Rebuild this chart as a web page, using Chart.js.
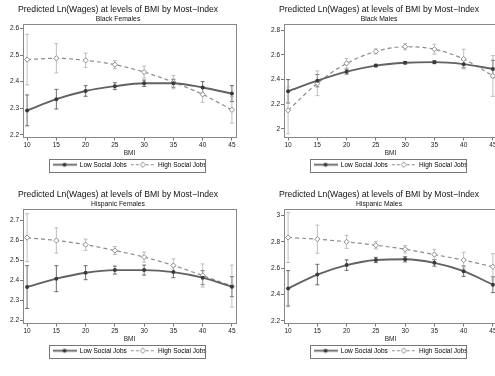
<!DOCTYPE html>
<html>
<head>
<meta charset="UTF-8">
<script src="https://cdn.jsdelivr.net/npm/chart.js"></script>
<style>
  body { margin: 0; background: #fff; }
  #wrap { position: relative; width: 495px; height: 376px; overflow: hidden; background: #fff; }
  canvas { position: absolute; }
</style>
</head>
<body>
<div id="wrap">
  <canvas id="c1" width="248" height="188" style="left:0px;top:0px"></canvas>
  <canvas id="c2" width="248" height="188" style="left:261px;top:0px"></canvas>
  <canvas id="c3" width="248" height="191" style="left:0px;top:185px"></canvas>
  <canvas id="c4" width="248" height="191" style="left:261px;top:185px"></canvas>
</div>
<script>
// BMI levels on the x axis
const bmi = [10, 15, 20, 25, 30, 35, 40, 45];

// Black Females
const bfLow = [2.292, 2.334, 2.365, 2.383, 2.394, 2.394, 2.378, 2.355];
const bfLowCi = [0.058, 0.037, 0.02, 0.013, 0.012, 0.015, 0.022, 0.03];
const bfHigh = [2.483, 2.488, 2.480, 2.464, 2.436, 2.398, 2.352, 2.294];
const bfHighCi = [0.095, 0.055, 0.027, 0.015, 0.022, 0.025, 0.03, 0.05];
const bfTicks = [2.2, 2.3, 2.4, 2.5, 2.6];

// Black Males
const bmLow = [2.304, 2.390, 2.463, 2.512, 2.535, 2.540, 2.524, 2.485];
const bmLowCi = [0.095, 0.05, 0.02, 0.01, 0.01, 0.012, 0.03, 0.07];
const bmHigh = [2.150, 2.369, 2.530, 2.627, 2.665, 2.645, 2.565, 2.428];
const bmHighCi = [0.19, 0.1, 0.04, 0.02, 0.025, 0.04, 0.08, 0.165];
const bmTicks = [2, 2.2, 2.4, 2.6, 2.8];

// Hispanic Females
const hfLow = [2.365, 2.407, 2.437, 2.450, 2.450, 2.440, 2.412, 2.367];
const hfLowCi = [0.107, 0.065, 0.035, 0.02, 0.025, 0.028, 0.035, 0.05];
const hfHigh = [2.612, 2.598, 2.577, 2.548, 2.515, 2.473, 2.423, 2.370];
const hfHighCi = [0.12, 0.063, 0.028, 0.02, 0.025, 0.033, 0.058, 0.105];
const hfTicks = [2.2, 2.3, 2.4, 2.5, 2.6, 2.7];

// Hispanic Males
const hmLow = [2.446, 2.551, 2.623, 2.662, 2.667, 2.640, 2.577, 2.474];
const hmLowCi = [0.135, 0.078, 0.04, 0.02, 0.02, 0.025, 0.04, 0.06];
const hmHigh = [2.833, 2.820, 2.800, 2.774, 2.744, 2.703, 2.661, 2.610];
const hmHighCi = [0.19, 0.107, 0.05, 0.028, 0.028, 0.04, 0.06, 0.1];
const hmTicks = [2.2, 2.4, 2.6, 2.8, 3];

const xTicks = [10, 15, 20, 25, 30, 35, 40, 45];

const FONT = 'Liberation Sans, Arial, sans-serif';
const lowColor = '#626262';
const lowMark = '#3a3a3a';
const lowCiColor = '#4a4a4a';
const highColor = '#8c8c8c';
const highCiColor = '#b0b0b0';

// small legend icons: line with marker
function legendIcon(color, markColor, dashed, hollow) {
    const c = document.createElement('canvas');
    c.width = 24; c.height = 7;
    const g = c.getContext('2d');
    g.strokeStyle = color;
    g.lineWidth = dashed ? 1.2 : 1.8;
    if (dashed) g.setLineDash([3, 2]);
    g.beginPath(); g.moveTo(0, 3.5); g.lineTo(24, 3.5); g.stroke();
    g.setLineDash([]);
    if (hollow) {
        g.fillStyle = '#fff';
        g.beginPath();
        g.moveTo(12, 0.8); g.lineTo(14.7, 3.5); g.lineTo(12, 6.2); g.lineTo(9.3, 3.5); g.closePath();
        g.fill();
        g.lineWidth = 1;
        g.strokeStyle = markColor;
        g.stroke();
    } else {
        g.fillStyle = markColor;
        g.beginPath(); g.arc(12, 3.5, 2, 0, Math.PI * 2); g.fill();
    }
    return c;
}
const lowIcon = legendIcon(lowColor, lowMark, false, false);
const highIcon = legendIcon(highColor, highColor, true, true);

// draws rcap confidence intervals and the frame around the plot region
const ciPlugin = {
    id: 'ciPlugin',
    beforeDatasetsDraw(chart) {
        const ctx = chart.ctx;
        const xs = chart.scales.x, ys = chart.scales.y;
        chart.data.datasets.forEach(ds => {
            ctx.save();
            ctx.strokeStyle = ds.ciColor;
            ctx.lineWidth = 0.8;
            ds.data.forEach((p, i) => {
                const px = xs.getPixelForValue(p.x);
                const y1 = ys.getPixelForValue(p.y - ds.ci[i]);
                const y2 = ys.getPixelForValue(p.y + ds.ci[i]);
                ctx.beginPath();
                ctx.moveTo(px, y1); ctx.lineTo(px, y2);
                ctx.moveTo(px - 2, y1); ctx.lineTo(px + 2, y1);
                ctx.moveTo(px - 2, y2); ctx.lineTo(px + 2, y2);
                ctx.stroke();
            });
            ctx.restore();
        });
    },
    afterDraw(chart) {
        const ctx = chart.ctx;
        const a = chart.chartArea;
        ctx.save();
        ctx.strokeStyle = '#888';
        ctx.lineWidth = 1;
        ctx.strokeRect(Math.round(a.left) + 0.5, Math.round(a.top) + 0.5,
            Math.round(a.right - a.left), Math.round(a.bottom - a.top));
        // legend box
        const boxes = chart.legend.legendHitBoxes;
        if (boxes && boxes.length) {
            const l = boxes[0].left - 4;
            const r = boxes[boxes.length - 1].left + boxes[boxes.length - 1].width - 2;
            const t = boxes[0].top - 3;
            const b = boxes[0].top + boxes[0].height + 3;
            ctx.strokeStyle = '#777';
            ctx.strokeRect(Math.round(l) + 0.5, Math.round(t) + 0.5, Math.round(r - l), Math.round(b - t));
        }
        ctx.restore();
    }
};

function makePanel(id, subtitle, low, lowCi, high, highCi, yTicks, ymin, ymax, pad) {
    const toPts = arr => arr.map((v, i) => ({ x: bmi[i], y: v }));
    new Chart(document.getElementById(id), {
        type: 'line',
        data: {
            datasets: [{
                label: 'Low Social Jobs',
                data: toPts(low),
                ci: lowCi,
                ciColor: lowCiColor,
                borderColor: lowColor,
                borderWidth: 1.9,
                pointStyle: 'circle',
                pointRadius: 2,
                pointBackgroundColor: lowMark,
                pointBorderColor: lowMark,
                pointBorderWidth: 0,
                cubicInterpolationMode: 'monotone',
                tension: 0.4
            }, {
                label: 'High Social Jobs',
                data: toPts(high),
                ci: highCi,
                ciColor: highCiColor,
                borderColor: highColor,
                borderWidth: 1.2,
                borderDash: [4, 3],
                pointStyle: 'rectRot',
                pointRadius: 2.6,
                pointBackgroundColor: '#fff',
                pointBorderColor: highColor,
                pointBorderWidth: 1,
                cubicInterpolationMode: 'monotone',
                tension: 0.4
            }]
        },
        options: {
            responsive: false,
            animation: false,
            layout: { padding: { left: 0, right: pad.right, top: pad.top, bottom: pad.bottom } },
            scales: {
                x: {
                    type: 'linear',
                    min: 9.3,
                    max: 45.7,
                    afterBuildTicks: s => { s.ticks = xTicks.map(v => ({ value: v })); },
                    afterFit: s => { s.height = pad.xh; },
                    grid: { drawOnChartArea: false, drawTicks: true, tickLength: 3, color: '#777' },
                    border: { display: false },
                    ticks: { font: { family: FONT, size: 6.5 }, color: '#222', padding: 1, maxRotation: 0 },
                    title: { display: true, text: 'BMI', font: { family: FONT, size: 6.5 }, color: '#222', padding: { top: 0, bottom: 0 } }
                },
                y: {
                    min: ymin,
                    max: ymax,
                    afterBuildTicks: s => { s.ticks = yTicks.map(v => ({ value: v })); },
                    afterFit: s => { s.width = pad.yw; },
                    grid: { drawOnChartArea: false, drawTicks: true, tickLength: 3, color: '#777' },
                    border: { display: false },
                    ticks: { font: { family: FONT, size: 6.5 }, color: '#222', padding: 1,
                        callback: v => String(v) }
                }
            },
            plugins: {
                title: {
                    display: true,
                    text: 'Predicted Ln(Wages) at levels of BMI by Most\u2212Index',
                    font: { family: FONT, size: 8.6, weight: 'normal' },
                    color: '#111',
                    padding: { top: 0, bottom: 1 }
                },
                subtitle: {
                    display: true,
                    text: subtitle,
                    font: { family: FONT, size: 6.8 },
                    color: '#111',
                    padding: { top: 0, bottom: pad.sub }
                },
                legend: {
                    position: 'bottom',
                    fullSize: false,
                    labels: {
                        font: { family: FONT, size: 6.5 },
                        color: '#222',
                        usePointStyle: true,
                        pointStyleWidth: 24,
                        padding: 4,
                        generateLabels: () => [
                            { text: 'Low Social Jobs', pointStyle: lowIcon, datasetIndex: 0, lineWidth: 0, fillStyle: 'transparent', strokeStyle: 'transparent' },
                            { text: 'High Social Jobs', pointStyle: highIcon, datasetIndex: 1, lineWidth: 0, fillStyle: 'transparent', strokeStyle: 'transparent' }
                        ]
                    }
                },
                tooltip: { enabled: false }
            }
        },
        plugins: [ciPlugin]
    });
}

const padTop = { right: 12, top: 4, bottom: 10, xh: 20, yw: 23, sub: 1 };
const padBot = { right: 12, top: 4, bottom: 12, xh: 20, yw: 23, sub: 1 };

makePanel('c1', 'Black Females', bfLow, bfLowCi, bfHigh, bfHighCi, bfTicks, 2.19, 2.615, padTop);
makePanel('c2', 'Black Males', bmLow, bmLowCi, bmHigh, bmHighCi, bmTicks, 1.93, 2.845, padTop);
makePanel('c3', 'Hispanic Females', hfLow, hfLowCi, hfHigh, hfHighCi, hfTicks, 2.183, 2.753, padBot);
makePanel('c4', 'Hispanic Males', hmLow, hmLowCi, hmHigh, hmHighCi, hmTicks, 2.179, 3.046, padBot);
</script>
</body>
</html>
